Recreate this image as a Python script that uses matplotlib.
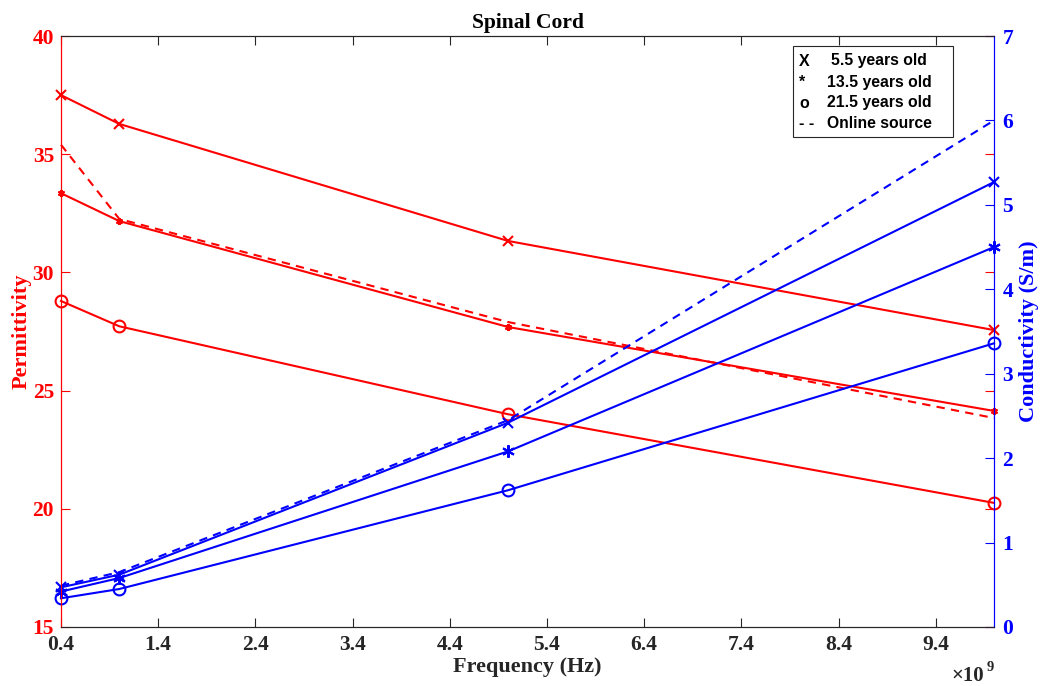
import matplotlib
matplotlib.use("Agg")
import matplotlib.pyplot as plt
from matplotlib.patches import Rectangle

# Frequencies in units of 1e9 Hz
freq = [0.4, 1.0, 5.0, 10.0]

# Permittivity (left axis)
perm_5_5 = [37.5, 36.28, 31.33, 27.56]
perm_13_5 = [33.35, 32.17, 27.69, 24.14]
perm_21_5 = [28.79, 27.72, 24.0, 20.25]
perm_online = [35.4, 32.26, 27.9, 23.84]

# Conductivity in S/m (right axis)
cond_5_5 = [0.47, 0.62, 2.42, 5.27]
cond_13_5 = [0.42, 0.58, 2.08, 4.50]
cond_21_5 = [0.34, 0.45, 1.62, 3.36]
cond_online = [0.49, 0.65, 2.45, 6.0]

xticks = [0.4, 1.4, 2.4, 3.4, 4.4, 5.4, 6.4, 7.4, 8.4, 9.4]
legend_symbols = ["X", "*", "o", "- -"]
legend_labels = ["5.5 years old", "13.5 years old", "21.5 years old", "Online source"]

serif = ["Liberation Serif", "DejaVu Serif"]
sans = ["Liberation Sans", "DejaVu Sans"]
plt.rcParams["font.family"] = serif
plt.rcParams["font.weight"] = "bold"

fig = plt.figure(figsize=(10.44, 6.86), dpi=100)
ax = fig.add_axes([61 / 1044, 59 / 686, 933 / 1044, 591 / 686])
ax2 = ax.twinx()

lw = 1.5
star = (6, 2, 0)
# Red permittivity curves
ax.plot(freq, perm_5_5, color="red", lw=lw, marker="x", ms=7, mew=1.5, clip_on=False)
ax.plot(freq, perm_13_5, color="red", lw=lw, marker=star, ms=5, mew=1.5, clip_on=False)
ax.plot(freq, perm_21_5, color="red", lw=lw, marker="o", ms=8.5, mfc="none", mew=1.5,
        clip_on=False)
ax.plot(freq, perm_online, color="red", lw=lw, ls=(0, (4, 3)), clip_on=False)

# Blue conductivity curves
ax2.plot(freq, cond_5_5, color="blue", lw=lw, marker="x", ms=7, mew=1.5, clip_on=False)
ax2.plot(freq, cond_13_5, color="blue", lw=lw, marker=star, ms=9, mew=1.5, clip_on=False)
ax2.plot(freq, cond_21_5, color="blue", lw=lw, marker="o", ms=8.5, mfc="none", mew=1.5,
         clip_on=False)
ax2.plot(freq, cond_online, color="blue", lw=lw, ls=(0, (4, 3)), clip_on=False)

ax.set_xlim(0.4, 10.0)
ax.set_ylim(15, 40)
ax2.set_ylim(0, 7)

ax.set_xticks(xticks)
ax.set_xticklabels([f"{t:.1f}" for t in xticks])
ax.set_yticks([15, 20, 25, 30, 35, 40])
ax2.set_yticks(range(0, 8))

ax.tick_params(axis="x", direction="in", length=6.5, width=0.8, top=True,
               labelsize=15.5, colors="#262626", pad=6)
ax.tick_params(axis="y", direction="in", length=6.5, width=0.8, left=True, right=True,
               labelright=False, colors="red", labelsize=15.5, pad=5)
ax2.tick_params(axis="y", direction="in", length=6.5, width=0.8, right=True,
                colors="blue", labelsize=15.5, pad=6)
for lab in ax.get_xticklabels() + ax.get_yticklabels() + ax2.get_yticklabels():
    lab.set_fontweight("bold")

for s in ("top", "bottom"):
    ax.spines[s].set_color("#262626")
    ax2.spines[s].set_color("#262626")
ax2.spines["left"].set_color("red")
ax.spines["left"].set_color("red")
ax2.spines["right"].set_color("blue")
ax.spines["right"].set_color("blue")
for a in (ax, ax2):
    for s in a.spines.values():
        s.set_linewidth(0.8)

ax.set_title("Spinal Cord", fontsize=15.5, fontweight="bold", pad=6)
ax.set_xlabel("Frequency (Hz)", fontsize=16, fontweight="bold", color="#262626", labelpad=1)
ax.set_ylabel("Permittivity", fontsize=16, fontweight="bold", color="red", labelpad=1)
ax2.set_ylabel("Conductivity (S/m)", fontsize=16, fontweight="bold", color="blue",
               rotation=90, labelpad=4)

# Exponent of the frequency axis
fig.text(951 / 1044, 1 - 681 / 686, "\u00d710", ha="left", va="baseline",
         fontsize=15, color="#262626", fontweight="bold")
fig.text(987 / 1044, 1 - 671 / 686, "9", ha="left", va="baseline",
         fontsize=10.5, color="#262626", fontweight="bold")

# Text-only key in the upper right corner
bx0, bx1 = (793 - 61) / 933, (953 - 61) / 933
by0, by1 = (627 - 137) / 591, (627 - 46) / 591
ax2.add_patch(Rectangle((bx0, by0), bx1 - bx0, by1 - by0, transform=ax2.transAxes,
                        facecolor="white", edgecolor="#262626", lw=0.8, zorder=5))
row_y = [61, 82, 103, 123]
for sym, lab, yy in zip(legend_symbols, legend_labels, row_y):
    yf = (627 - yy) / 591
    ax2.text((799 - 61) / 933, yf, sym, transform=ax2.transAxes, ha="left", va="center",
             family=sans, fontweight="bold", fontsize=11.5, zorder=6)
    ax2.text((879 - 61) / 933, yf, lab, transform=ax2.transAxes, ha="center", va="center",
             family=sans, fontweight="bold", fontsize=11.3, zorder=6)

fig.savefig("out.png", dpi=100)
